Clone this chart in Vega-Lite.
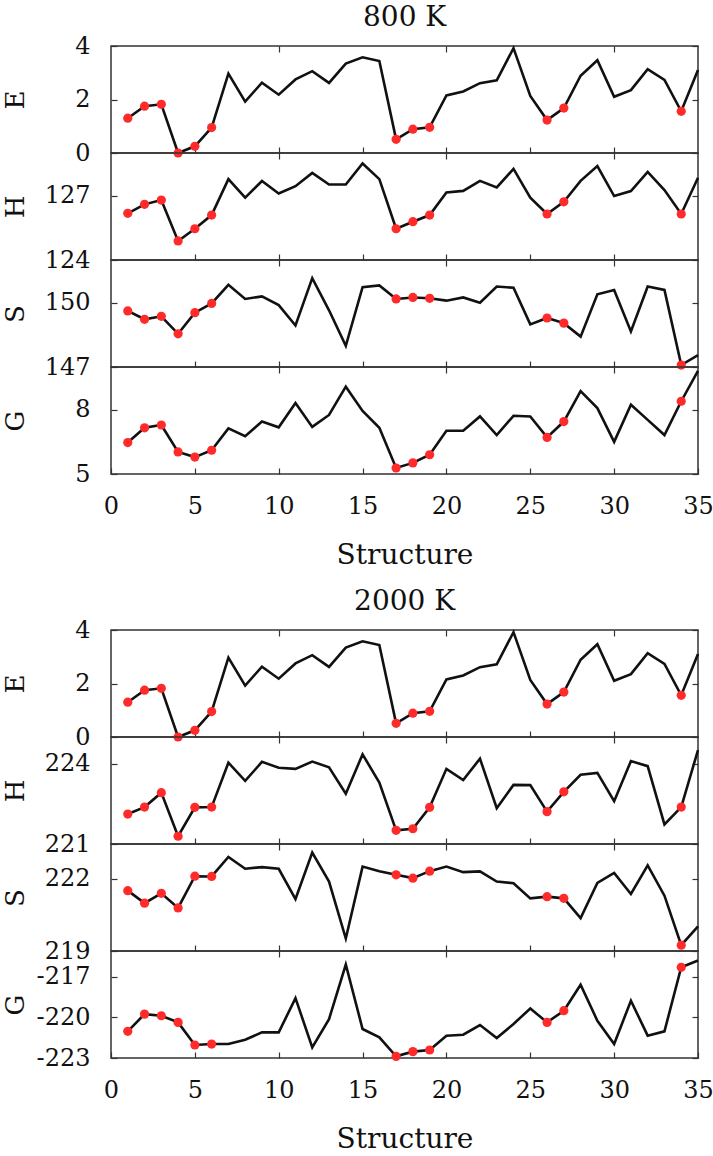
{
  "$schema": "https://vega.github.io/schema/vega-lite/v6.json",
  "background": "white",
  "padding": {"left": 1, "top": 4, "right": 0, "bottom": 0},
  "spacing": 18,
  "config": {
    "font": "DejaVu Serif",
    "view": {"stroke": "#333333", "strokeWidth": 1.5},
    "axis": {"grid": false, "domain": false, "labelFont": "DejaVu Serif", "labelFontSize": 24, "labelColor": "#111111", "titleFont": "DejaVu Serif", "titleFontSize": 26, "titleFontWeight": "normal", "titleColor": "#111111", "tickColor": "#333333", "tickSize": -6, "tickWidth": 1.2},
    "axisLeft": {"titleX": -83, "labelPadding": 27},
    "axisBottom": {"labelPadding": 26, "titlePadding": 23, "titleFontSize": 28, "labelFlush": false},
    "axisTop": {"labelFlush": false},
    "title": {"font": "DejaVu Serif", "fontSize": 28, "fontWeight": "normal", "color": "#111111", "offset": 1, "anchor": "middle", "dx": 47}
  },
  "datasets": {
    "t800": [
      {"s": 1, "E": 1.30, "H": 126.18, "S": 149.62, "G": 6.47},
      {"s": 2, "E": 1.75, "H": 126.60, "S": 149.23, "G": 7.16},
      {"s": 3, "E": 1.82, "H": 126.80, "S": 149.37, "G": 7.29},
      {"s": 4, "E": 0.00, "H": 124.89, "S": 148.55, "G": 6.03},
      {"s": 5, "E": 0.25, "H": 125.46, "S": 149.54, "G": 5.79},
      {"s": 6, "E": 0.95, "H": 126.10, "S": 149.97, "G": 6.11},
      {"s": 7, "E": 2.97, "H": 127.78, "S": 150.84, "G": 7.13},
      {"s": 8, "E": 1.92, "H": 126.91, "S": 150.18, "G": 6.77},
      {"s": 9, "E": 2.63, "H": 127.69, "S": 150.30, "G": 7.45},
      {"s": 10, "E": 2.18, "H": 127.11, "S": 149.89, "G": 7.18},
      {"s": 11, "E": 2.75, "H": 127.45, "S": 148.94, "G": 8.32},
      {"s": 12, "E": 3.06, "H": 128.07, "S": 151.15, "G": 7.20},
      {"s": 13, "E": 2.62, "H": 127.53, "S": 149.65, "G": 7.76},
      {"s": 14, "E": 3.34, "H": 127.53, "S": 147.99, "G": 9.08},
      {"s": 15, "E": 3.58, "H": 128.51, "S": 150.73, "G": 7.95},
      {"s": 16, "E": 3.44, "H": 127.78, "S": 150.81, "G": 7.16},
      {"s": 17, "E": 0.51, "H": 125.46, "S": 150.18, "G": 5.28},
      {"s": 18, "E": 0.89, "H": 125.79, "S": 150.25, "G": 5.52},
      {"s": 19, "E": 0.96, "H": 126.10, "S": 150.21, "G": 5.90},
      {"s": 20, "E": 2.15, "H": 127.16, "S": 150.10, "G": 7.02},
      {"s": 21, "E": 2.30, "H": 127.23, "S": 150.25, "G": 7.02},
      {"s": 22, "E": 2.61, "H": 127.70, "S": 150.00, "G": 7.69},
      {"s": 23, "E": 2.72, "H": 127.39, "S": 150.76, "G": 6.82},
      {"s": 24, "E": 3.92, "H": 128.26, "S": 150.70, "G": 7.72},
      {"s": 25, "E": 2.13, "H": 126.91, "S": 148.99, "G": 7.69},
      {"s": 26, "E": 1.23, "H": 126.15, "S": 149.29, "G": 6.71},
      {"s": 27, "E": 1.68, "H": 126.72, "S": 149.05, "G": 7.45},
      {"s": 28, "E": 2.89, "H": 127.70, "S": 148.42, "G": 8.87},
      {"s": 29, "E": 3.47, "H": 128.39, "S": 150.40, "G": 8.08},
      {"s": 30, "E": 2.10, "H": 126.99, "S": 150.60, "G": 6.50},
      {"s": 31, "E": 2.35, "H": 127.22, "S": 148.66, "G": 8.24},
      {"s": 32, "E": 3.13, "H": 128.12, "S": 150.76, "G": 7.53},
      {"s": 33, "E": 2.73, "H": 127.27, "S": 150.60, "G": 6.82},
      {"s": 34, "E": 1.56, "H": 126.15, "S": 147.09, "G": 8.40},
      {"s": 35, "E": 3.10, "H": 127.84, "S": 147.55, "G": 9.82}
    ],
    "t2000": [
      {"s": 1, "E": 1.30, "H": 222.12, "S": 221.51, "G": -221.03},
      {"s": 2, "E": 1.75, "H": 222.38, "S": 220.99, "G": -219.76},
      {"s": 3, "E": 1.82, "H": 222.92, "S": 221.40, "G": -219.88},
      {"s": 4, "E": 0.00, "H": 221.29, "S": 220.79, "G": -220.37},
      {"s": 5, "E": 0.25, "H": 222.37, "S": 222.11, "G": -222.04},
      {"s": 6, "E": 0.95, "H": 222.38, "S": 222.10, "G": -221.97},
      {"s": 7, "E": 2.97, "H": 224.04, "S": 222.91, "G": -221.97},
      {"s": 8, "E": 1.92, "H": 223.36, "S": 222.42, "G": -221.65},
      {"s": 9, "E": 2.63, "H": 224.07, "S": 222.49, "G": -221.11},
      {"s": 10, "E": 2.18, "H": 223.85, "S": 222.42, "G": -221.11},
      {"s": 11, "E": 2.75, "H": 223.81, "S": 221.16, "G": -218.58},
      {"s": 12, "E": 3.06, "H": 224.08, "S": 223.09, "G": -222.21},
      {"s": 13, "E": 2.62, "H": 223.87, "S": 221.89, "G": -220.13},
      {"s": 14, "E": 3.34, "H": 222.88, "S": 219.52, "G": -216.10},
      {"s": 15, "E": 3.58, "H": 224.35, "S": 222.51, "G": -220.86},
      {"s": 16, "E": 3.44, "H": 223.30, "S": 222.32, "G": -221.48},
      {"s": 17, "E": 0.51, "H": 221.51, "S": 222.17, "G": -222.88},
      {"s": 18, "E": 0.89, "H": 221.57, "S": 222.03, "G": -222.53},
      {"s": 19, "E": 0.96, "H": 222.37, "S": 222.32, "G": -222.41},
      {"s": 20, "E": 2.15, "H": 223.81, "S": 222.51, "G": -221.35},
      {"s": 21, "E": 2.30, "H": 223.39, "S": 222.28, "G": -221.28},
      {"s": 22, "E": 2.61, "H": 224.19, "S": 222.31, "G": -220.57},
      {"s": 23, "E": 2.72, "H": 222.34, "S": 221.89, "G": -221.53},
      {"s": 24, "E": 3.92, "H": 223.21, "S": 221.82, "G": -220.49},
      {"s": 25, "E": 2.13, "H": 223.20, "S": 221.19, "G": -219.34},
      {"s": 26, "E": 1.23, "H": 222.21, "S": 221.26, "G": -220.37},
      {"s": 27, "E": 1.68, "H": 222.95, "S": 221.19, "G": -219.51},
      {"s": 28, "E": 2.89, "H": 223.59, "S": 220.37, "G": -217.59},
      {"s": 29, "E": 3.47, "H": 223.66, "S": 221.83, "G": -220.25},
      {"s": 30, "E": 2.10, "H": 222.60, "S": 222.25, "G": -221.97},
      {"s": 31, "E": 2.35, "H": 224.10, "S": 221.37, "G": -218.77},
      {"s": 32, "E": 3.13, "H": 223.91, "S": 222.56, "G": -221.35},
      {"s": 33, "E": 2.73, "H": 221.73, "S": 221.30, "G": -221.03},
      {"s": 34, "E": 1.56, "H": 222.38, "S": 219.24, "G": -216.30},
      {"s": 35, "E": 3.10, "H": 224.51, "S": 220.02, "G": -215.80}
    ]
  },
  "vconcat": [
    {
      "title": "800 K",
      "spacing": 0,
      "bounds": "flush",
      "vconcat": [
        {
          "data": {"name": "t800"}, "width": 587, "height": 107,
          "resolve": {"axis": {"x": "independent", "y": "independent"}},
          "layer": [
            {"mark": {"type": "line", "color": "#111111", "strokeWidth": 2.6},
             "encoding": {
               "x": {"field": "s", "type": "quantitative", "scale": {"domain": [0, 35], "nice": false}, "axis": {"labels": false, "title": null, "values": [5, 10, 15, 20, 25, 30]}},
               "y": {"field": "E", "type": "quantitative", "scale": {"domain": [0, 4], "nice": false, "zero": false}, "axis": {"title": "E", "values": [0, 2, 4]}}}},
            {"transform": [{"filter": {"field": "s", "oneOf": [1, 2, 3, 4, 5, 6, 17, 18, 19, 26, 27, 34]}}], "mark": {"type": "circle", "color": "#ff2b2b", "opacity": 1, "size": 85},
             "encoding": {
               "x": {"field": "s", "type": "quantitative", "axis": {"orient": "top", "labels": false, "title": null, "values": [10, 20, 30]}},
               "y": {"field": "E", "type": "quantitative", "axis": {"orient": "right", "labels": false, "title": null, "values": [0, 2, 4]}}}}
          ]
        },
        {
          "data": {"name": "t800"}, "width": 587, "height": 107,
          "resolve": {"axis": {"x": "independent", "y": "independent"}},
          "layer": [
            {"mark": {"type": "line", "color": "#111111", "strokeWidth": 2.6},
             "encoding": {
               "x": {"field": "s", "type": "quantitative", "scale": {"domain": [0, 35], "nice": false}, "axis": {"labels": false, "title": null, "values": [5, 10, 15, 20, 25, 30]}},
               "y": {"field": "H", "type": "quantitative", "scale": {"domain": [124, 129], "nice": false, "zero": false}, "axis": {"title": "H", "values": [124, 127]}}}},
            {"transform": [{"filter": {"field": "s", "oneOf": [1, 2, 3, 4, 5, 6, 17, 18, 19, 26, 27, 34]}}], "mark": {"type": "circle", "color": "#ff2b2b", "opacity": 1, "size": 85},
             "encoding": {
               "x": {"field": "s", "type": "quantitative", "axis": {"orient": "top", "labels": false, "title": null, "values": [10, 20, 30]}},
               "y": {"field": "H", "type": "quantitative", "axis": {"orient": "right", "labels": false, "title": null, "values": [124, 127]}}}}
          ]
        },
        {
          "data": {"name": "t800"}, "width": 587, "height": 107,
          "resolve": {"axis": {"x": "independent", "y": "independent"}},
          "layer": [
            {"mark": {"type": "line", "color": "#111111", "strokeWidth": 2.6},
             "encoding": {
               "x": {"field": "s", "type": "quantitative", "scale": {"domain": [0, 35], "nice": false}, "axis": {"labels": false, "title": null, "values": [5, 10, 15, 20, 25, 30]}},
               "y": {"field": "S", "type": "quantitative", "scale": {"domain": [147, 152], "nice": false, "zero": false}, "axis": {"title": "S", "values": [147, 150]}}}},
            {"transform": [{"filter": {"field": "s", "oneOf": [1, 2, 3, 4, 5, 6, 17, 18, 19, 26, 27, 34]}}], "mark": {"type": "circle", "color": "#ff2b2b", "opacity": 1, "size": 85},
             "encoding": {
               "x": {"field": "s", "type": "quantitative", "axis": {"orient": "top", "labels": false, "title": null, "values": [10, 20, 30]}},
               "y": {"field": "S", "type": "quantitative", "axis": {"orient": "right", "labels": false, "title": null, "values": [147, 150]}}}}
          ]
        },
        {
          "data": {"name": "t800"}, "width": 587, "height": 107,
          "resolve": {"axis": {"x": "independent", "y": "independent"}},
          "layer": [
            {"mark": {"type": "line", "color": "#111111", "strokeWidth": 2.6},
             "encoding": {
               "x": {"field": "s", "type": "quantitative", "scale": {"domain": [0, 35], "nice": false}, "axis": {"title": "Structure", "values": [0, 5, 10, 15, 20, 25, 30, 35]}},
               "y": {"field": "G", "type": "quantitative", "scale": {"domain": [5, 10], "nice": false, "zero": false}, "axis": {"title": "G", "values": [5, 8]}}}},
            {"transform": [{"filter": {"field": "s", "oneOf": [1, 2, 3, 4, 5, 6, 17, 18, 19, 26, 27, 34]}}], "mark": {"type": "circle", "color": "#ff2b2b", "opacity": 1, "size": 85},
             "encoding": {
               "x": {"field": "s", "type": "quantitative", "axis": {"orient": "top", "labels": false, "title": null, "values": [10, 20, 30]}},
               "y": {"field": "G", "type": "quantitative", "axis": {"orient": "right", "labels": false, "title": null, "values": [5, 8]}}}}
          ]
        }
      ]
    },
    {
      "title": "2000 K",
      "spacing": 0,
      "bounds": "flush",
      "vconcat": [
        {
          "data": {"name": "t2000"}, "width": 587, "height": 107,
          "resolve": {"axis": {"x": "independent", "y": "independent"}},
          "layer": [
            {"mark": {"type": "line", "color": "#111111", "strokeWidth": 2.6},
             "encoding": {
               "x": {"field": "s", "type": "quantitative", "scale": {"domain": [0, 35], "nice": false}, "axis": {"labels": false, "title": null, "values": [5, 10, 15, 20, 25, 30]}},
               "y": {"field": "E", "type": "quantitative", "scale": {"domain": [0, 4], "nice": false, "zero": false}, "axis": {"title": "E", "values": [0, 2, 4]}}}},
            {"transform": [{"filter": {"field": "s", "oneOf": [1, 2, 3, 4, 5, 6, 17, 18, 19, 26, 27, 34]}}], "mark": {"type": "circle", "color": "#ff2b2b", "opacity": 1, "size": 85},
             "encoding": {
               "x": {"field": "s", "type": "quantitative", "axis": {"orient": "top", "labels": false, "title": null, "values": [10, 20, 30]}},
               "y": {"field": "E", "type": "quantitative", "axis": {"orient": "right", "labels": false, "title": null, "values": [0, 2, 4]}}}}
          ]
        },
        {
          "data": {"name": "t2000"}, "width": 587, "height": 107,
          "resolve": {"axis": {"x": "independent", "y": "independent"}},
          "layer": [
            {"mark": {"type": "line", "color": "#111111", "strokeWidth": 2.6},
             "encoding": {
               "x": {"field": "s", "type": "quantitative", "scale": {"domain": [0, 35], "nice": false}, "axis": {"labels": false, "title": null, "values": [5, 10, 15, 20, 25, 30]}},
               "y": {"field": "H", "type": "quantitative", "scale": {"domain": [221, 225], "nice": false, "zero": false}, "axis": {"title": "H", "values": [221, 224]}}}},
            {"transform": [{"filter": {"field": "s", "oneOf": [1, 2, 3, 4, 5, 6, 17, 18, 19, 26, 27, 34]}}], "mark": {"type": "circle", "color": "#ff2b2b", "opacity": 1, "size": 85},
             "encoding": {
               "x": {"field": "s", "type": "quantitative", "axis": {"orient": "top", "labels": false, "title": null, "values": [10, 20, 30]}},
               "y": {"field": "H", "type": "quantitative", "axis": {"orient": "right", "labels": false, "title": null, "values": [221, 224]}}}}
          ]
        },
        {
          "data": {"name": "t2000"}, "width": 587, "height": 107,
          "resolve": {"axis": {"x": "independent", "y": "independent"}},
          "layer": [
            {"mark": {"type": "line", "color": "#111111", "strokeWidth": 2.6},
             "encoding": {
               "x": {"field": "s", "type": "quantitative", "scale": {"domain": [0, 35], "nice": false}, "axis": {"labels": false, "title": null, "values": [5, 10, 15, 20, 25, 30]}},
               "y": {"field": "S", "type": "quantitative", "scale": {"domain": [219, 223.45], "nice": false, "zero": false}, "axis": {"title": "S", "values": [219, 222]}}}},
            {"transform": [{"filter": {"field": "s", "oneOf": [1, 2, 3, 4, 5, 6, 17, 18, 19, 26, 27, 34]}}], "mark": {"type": "circle", "color": "#ff2b2b", "opacity": 1, "size": 85},
             "encoding": {
               "x": {"field": "s", "type": "quantitative", "axis": {"orient": "top", "labels": false, "title": null, "values": [10, 20, 30]}},
               "y": {"field": "S", "type": "quantitative", "axis": {"orient": "right", "labels": false, "title": null, "values": [219, 222]}}}}
          ]
        },
        {
          "data": {"name": "t2000"}, "width": 587, "height": 107,
          "resolve": {"axis": {"x": "independent", "y": "independent"}},
          "layer": [
            {"mark": {"type": "line", "color": "#111111", "strokeWidth": 2.6},
             "encoding": {
               "x": {"field": "s", "type": "quantitative", "scale": {"domain": [0, 35], "nice": false}, "axis": {"title": "Structure", "values": [0, 5, 10, 15, 20, 25, 30, 35]}},
               "y": {"field": "G", "type": "quantitative", "scale": {"domain": [-223, -215.1], "nice": false, "zero": false}, "axis": {"title": "G", "values": [-223, -220, -217], "labelExpr": "'' + datum.value"}}}},
            {"transform": [{"filter": {"field": "s", "oneOf": [1, 2, 3, 4, 5, 6, 17, 18, 19, 26, 27, 34]}}], "mark": {"type": "circle", "color": "#ff2b2b", "opacity": 1, "size": 85},
             "encoding": {
               "x": {"field": "s", "type": "quantitative", "axis": {"orient": "top", "labels": false, "title": null, "values": [10, 20, 30]}},
               "y": {"field": "G", "type": "quantitative", "axis": {"orient": "right", "labels": false, "title": null, "values": [-223, -220, -217]}}}}
          ]
        }
      ]
    }
  ]
}
